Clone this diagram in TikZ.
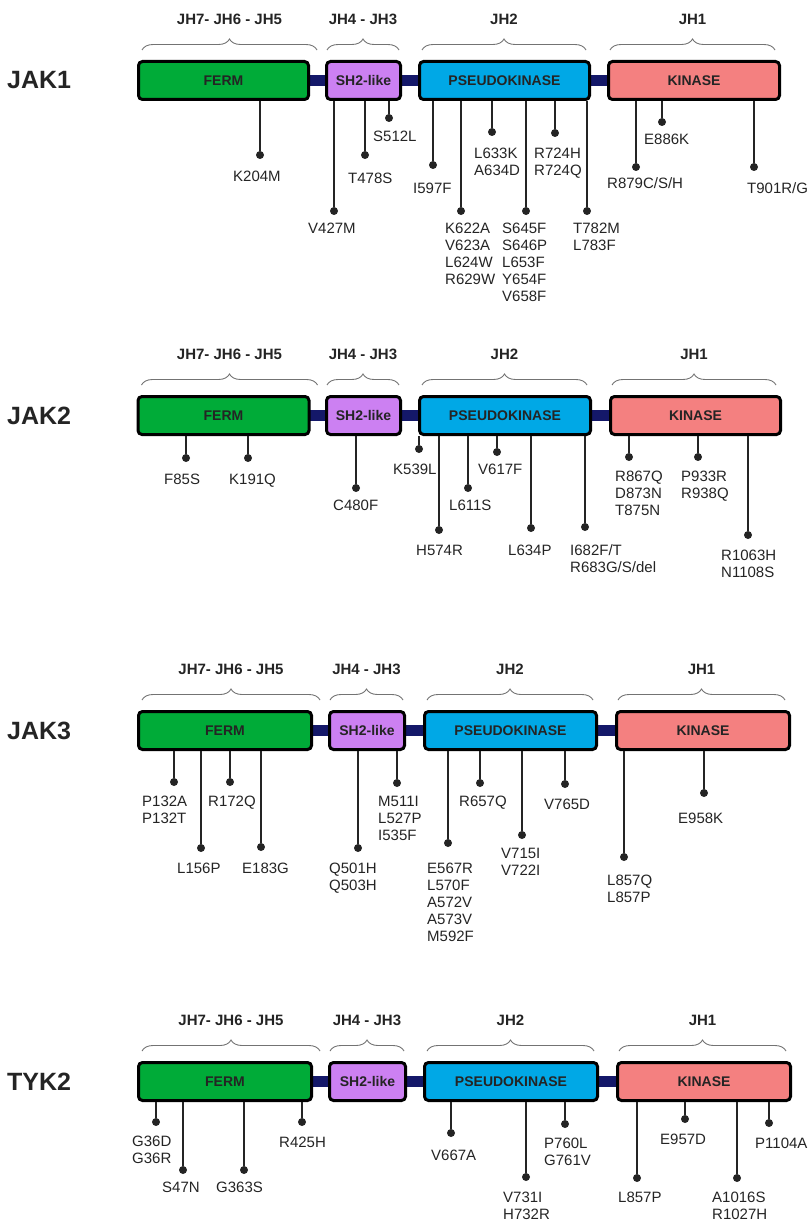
\documentclass[tikz,border=0pt]{standalone}
\usepackage{fontspec}
\setmainfont{Liberation Sans}
\definecolor{fermgreen}{RGB}{0,171,56}
\definecolor{shpurple}{RGB}{204,128,242}
\definecolor{pkblue}{RGB}{0,168,230}
\definecolor{kinred}{RGB}{244,128,128}
\definecolor{linknavy}{RGB}{20,24,105}
\definecolor{txtgray}{RGB}{36,36,36}
\usetikzlibrary{backgrounds,calc,decorations.pathreplacing}

\begin{document}
\begin{tikzpicture}[x=1pt,y=-1pt,
  dombox/.style={draw=black,line width=3pt,rounded corners=4pt,minimum height=38pt,
    inner sep=0pt,text=txtgray,font=\fontsize{14}{16}\selectfont\bfseries},
  linker/.style={linknavy,line width=11pt},
  jhbrace/.style={draw=black!55,line width=0.9pt,decorate,decoration={brace,amplitude=11pt}},
  hdr/.style={inner sep=0pt,text=txtgray,font=\fontsize{15}{17}\selectfont\bfseries},
  protname/.style={anchor=west,inner sep=0pt,text=txtgray,font=\fontsize{25}{28}\selectfont\bfseries},
  mutdot/.style={circle,fill=txtgray,minimum size=8pt,inner sep=0pt},
  pinln/.style={draw=txtgray,line width=1.5pt},
  mut/.style={anchor=north west,inner sep=0pt,align=left,text=txtgray,font=\fontsize{15}{17}\selectfont}
]
  \useasboundingbox (0,0) rectangle (810,1225);

  % domain rows
  \foreach \rw/\nm/\yc/\xa/\xb/\xc/\xd/\wfe/\wsh/\wpk/\wkn in {
    1/JAK1/80.5/223.5/363.5/504.5/694/170/74/170/171,
    2/JAK2/415.5/223.5/363.5/505/695.5/171/74/171/170,
    3/JAK3/730.5/225/367/510.5/703/173/75/172/173,
    4/TYK2/1081.5/225/367.5/511/704/173/76/173/173}
  {
    \node[protname] (t\rw) at (7,\yc) {\nm};
    \node[dombox,fill=fermgreen,minimum width=\wfe pt] (ferm\rw) at (\xa,\yc) {FERM};
    \node[dombox,fill=shpurple,minimum width=\wsh pt] (sh\rw) at (\xb,\yc) {SH2-like};
    \node[dombox,fill=pkblue,minimum width=\wpk pt] (pk\rw) at (\xc,\yc) {PSEUDOKINASE};
    \node[dombox,fill=kinred,minimum width=\wkn pt] (kin\rw) at (\xd,\yc) {KINASE};
    \begin{scope}[on background layer]
      \draw[linker] (ferm\rw.center) -- (kin\rw.center);
    \end{scope}
    % braces and JH headers
    \draw[jhbrace] ($(ferm\rw.north west)+(5,-10)$) -- ($(ferm\rw.north east)+(7,-10)$);
    \draw[jhbrace] ($(sh\rw.north west)+(2,-10)$) -- ($(sh\rw.north east)+(-3,-10)$);
    \draw[jhbrace] ($(pk\rw.north west)+(4,-10)$) -- ($(pk\rw.north east)+(-5,-10)$);
    \draw[jhbrace] ($(kin\rw.north west)+(3,-10)$) -- ($(kin\rw.north east)+(-6,-10)$);
    \node[hdr] (ha\rw) at ($(ferm\rw.north)+(6,-41)$) {JH7- JH6 - JH5};
    \node[hdr] (hb\rw) at ($(sh\rw.north)+(-0.5,-41)$) {JH4 - JH3};
    \node[hdr] (hc\rw) at ($(pk\rw.north)+(-0.5,-41)$) {JH2};
    \node[hdr] (hd\rw) at ($(kin\rw.north)+(-1.5,-41)$) {JH1};
  }

  % JAK1 mutations
  \foreach \bx/\px/\py/\lx/\ly/\txt [count=\i] in {
    ferm1/260/155/233/171/K204M,
    sh1/334/211/308/223/V427M,
    sh1/365/155/348/173/T478S,
    sh1/389/118/373/131/S512L,
    pk1/433/165/413/183/I597F,
    pk1/461/211/445/223/{K622A\\V623A\\L624W\\R629W},
    pk1/492/132/474/148/{L633K\\A634D},
    pk1/526/211/502/223/{S645F\\S646P\\L653F\\Y654F\\V658F},
    pk1/555/133/534/148/{R724H\\R724Q},
    pk1/587/211/573/223/{T782M\\L783F},
    kin1/636/167/607/177/{R879C/S/H},
    kin1/662/122/644/134/E886K,
    kin1/754/167/747/182/{T901R/G}}
  {
    \node[mutdot] (ja\i) at (\px,\py) {};
    \draw[pinln] (ja\i) -- (ja\i |- \bx.south);
    \node[mut] (jal\i) at (\lx,\ly) {\txt};
  }

  % JAK2 mutations
  \foreach \bx/\px/\py/\lx/\ly/\txt [count=\i] in {
    ferm2/186/458/164/474/F85S,
    ferm2/248/458/229/474/K191Q,
    sh2/356/488/333/500/C480F,
    pk2/419/449/393/464/K539L,
    pk2/439/530/416/545/H574R,
    pk2/468/488/449/500/L611S,
    pk2/497/452/478/464/V617F,
    pk2/531/528/508/545/L634P,
    pk2/585/527/570/544/{I682F/T\\R683G/S/del},
    kin2/629/457/615/471/{R867Q\\D873N\\T875N},
    kin2/698/457/681/471/{P933R\\R938Q},
    kin2/748/535/721/550/{R1063H\\N1108S}}
  {
    \node[mutdot] (jb\i) at (\px,\py) {};
    \draw[pinln] (jb\i) -- (jb\i |- \bx.south);
    \node[mut] (jbl\i) at (\lx,\ly) {\txt};
  }

  % JAK3 mutations
  \foreach \bx/\px/\py/\lx/\ly/\txt [count=\i] in {
    ferm3/174/782/142/796/{P132A\\P132T},
    ferm3/201/848/177/863/L156P,
    ferm3/230/782/208/796/R172Q,
    ferm3/261/847/242/863/E183G,
    sh3/358/848/329/863/{Q501H\\Q503H},
    sh3/397/783/378/796/{M511I\\L527P\\I535F},
    pk3/448/843/427/863/{E567R\\L570F\\A572V\\A573V\\M592F},
    pk3/480/783/459/796/R657Q,
    pk3/522/835/501/848/{V715I\\V722I},
    pk3/565/784/544/799/V765D,
    kin3/624/857/607/875/{L857Q\\L857P},
    kin3/704/793/678/813/E958K}
  {
    \node[mutdot] (jc\i) at (\px,\py) {};
    \draw[pinln] (jc\i) -- (jc\i |- \bx.south);
    \node[mut] (jcl\i) at (\lx,\ly) {\txt};
  }

  % TYK2 mutations
  \foreach \bx/\px/\py/\lx/\ly/\txt [count=\i] in {
    ferm4/156/1122/132/1136/{G36D\\G36R},
    ferm4/183/1170/162/1182/S47N,
    ferm4/244/1170/216/1182/G363S,
    ferm4/302/1122/279/1137/R425H,
    pk4/451/1133/431/1150/V667A,
    pk4/526/1177/503/1192/{V731I\\H732R},
    pk4/565/1124/544/1138/{P760L\\G761V},
    kin4/637/1178/618/1192/L857P,
    kin4/685/1119/660/1134/E957D,
    kin4/737/1178/712/1192/{A1016S\\R1027H},
    kin4/769/1123/755/1138/P1104A}
  {
    \node[mutdot] (ty\i) at (\px,\py) {};
    \draw[pinln] (ty\i) -- (ty\i |- \bx.south);
    \node[mut] (tyl\i) at (\lx,\ly) {\txt};
  }
\end{tikzpicture}
\end{document}
